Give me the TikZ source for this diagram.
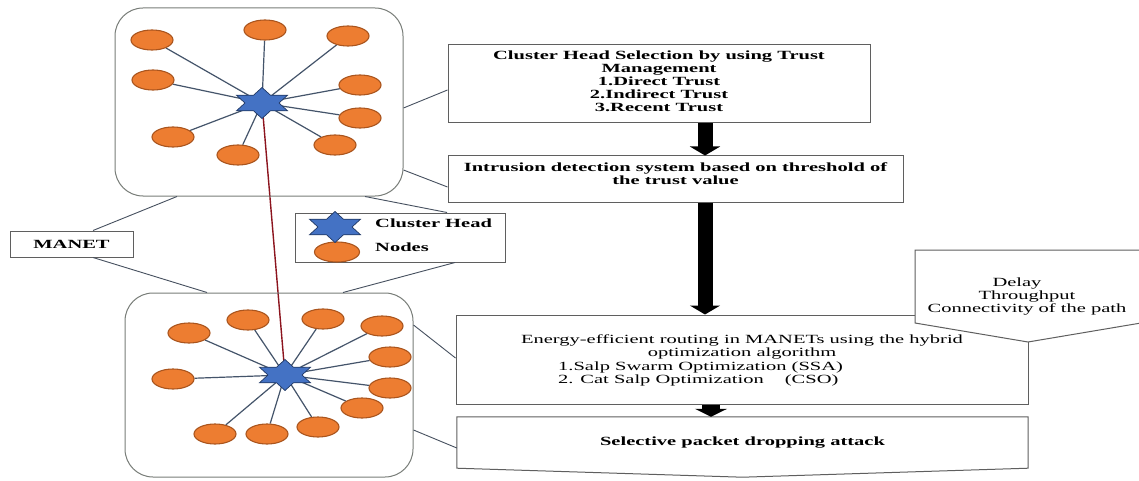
\documentclass[tikz,border=0pt]{standalone}
\usepackage{fontspec}
\setmainfont{Liberation Serif}[FakeStretch=1.64]
\usetikzlibrary{shapes.geometric,arrows.meta,backgrounds}
\definecolor{nodeorange}{RGB}{237,125,49}
\definecolor{nodeedge}{RGB}{170,85,30}
\definecolor{starblue}{RGB}{68,114,196}
\definecolor{staredge}{RGB}{32,56,100}
\definecolor{spoke}{RGB}{68,84,106}
\definecolor{linkred}{RGB}{140,20,30}
\definecolor{boxline}{RGB}{95,95,95}
\definecolor{clusterline}{RGB}{120,125,120}
\definecolor{leader}{RGB}{70,80,95}
\begin{document}
\begin{tikzpicture}[x=1pt,y=-1pt,
 dev/.style={ellipse, draw=nodeedge, line width=1.1pt, fill=nodeorange, minimum width=42pt, minimum height=20pt, inner sep=0pt},
 head/.style={star, star points=6, star point ratio=1.73, draw=staredge, line width=0.7pt, fill=starblue, minimum size=31pt, inner sep=0pt, xscale=1.9},
 spokeline/.style={draw=spoke, line width=1.2pt},
 redlink/.style={draw=linkred, line width=1.4pt},
 cluster/.style={draw=clusterline, line width=1pt, rounded corners=28pt, inner sep=0pt},
 boxnode/.style={draw=boxline, line width=1pt, inner sep=0pt},
 outline/.style={draw=boxline, line width=1pt},
 leaderline/.style={draw=leader, line width=0.9pt},
 btxt/.style={font=\fontsize{12.5}{13}\selectfont\bfseries, align=center, inner sep=0pt},
 rtxt/.style={font=\fontsize{12.5}{13}\selectfont, align=center, inner sep=0pt},
 blockarrow/.style={draw=black, line width=15pt, -{Triangle[width=30pt,length=9pt]}},
]
\useasboundingbox (0,0) rectangle (1139,481);
\begin{pgfonlayer}{background}
\fill[white] (0,0) rectangle (1139,481);
\end{pgfonlayer}

% cluster boxes
\node[cluster, minimum width=288pt, minimum height=188pt] (c1) at (259,102) {};
\node[cluster, minimum width=288pt, minimum height=184pt] (c2) at (269,385) {};

% top cluster nodes
\foreach \p [count=\i] in {(152,40),(265,30),(348,36),(153,80),(360,85),(173,137),(360,118),(238,155),(335,145)}
  \node[dev] (a\i) at \p {};
\node[head] (s1) at (262,103) {};

% bottom cluster nodes
\foreach \p [count=\i] in {(189,333),(248,320),(323,319),(382,326),(390,357),(173,379),(390,388),(362,408),(215,434),(267,434),(318,427)}
  \node[dev] (b\i) at \p {};
\node[head] (s2) at (285,375) {};

\begin{pgfonlayer}{background}
\foreach \i in {1,...,9} \draw[spokeline] (a\i) -- (s1.center);
\foreach \i in {1,...,11} \draw[spokeline] (b\i) -- (s2.center);
\draw[redlink] (s1.center) -- (s2.center);
\end{pgfonlayer}

% right-hand boxes
\node[boxnode, minimum width=422pt, minimum height=78pt] (bx1) at (659,84) {};
\node[btxt] (t1) at (659,81) {Cluster Head Selection by using Trust\\Management\\1.Direct Trust\\2.Indirect Trust\\3.Recent Trust};
\node[boxnode, minimum width=455pt, minimum height=46pt] (bx2) at (675.5,179) {};
\node[btxt] (t2) at (675.5,174) {Intrusion detection system based on threshold of\\the trust value};
\node[boxnode, minimum width=572pt, minimum height=89pt] (eb) at (742,359.5) {};
\node[rtxt] (t3) at (742,346.5) {Energy-efficient routing in MANETs using the hybrid\\optimization algorithm};
\node[rtxt, align=left, anchor=west] (t4) at (558,373.5) {1.Salp Swarm Optimization (SSA)\\2. Cat Salp Optimization\hspace{16pt} (CSO)};

% callout
\draw[outline, fill=white] (915,250) -- (1141,250) -- (1141,323) -- (1028,342) -- (915,323) -- cycle;
\node[rtxt] (t5) at (1027,297) {Delay\hspace*{20pt}\\Throughput\\Connectivity of the path};

% selective packet dropping
\node[btxt, minimum width=571pt, minimum height=51pt] (sp) at (742.5,442.5) {Selective packet dropping attack};
\draw[outline] (sp.north west) -- (sp.north east) -- (sp.south east) -- ([yshift=-9pt]sp.south) -- (sp.south west) -- cycle;

% MANET label
\node[boxnode, btxt, minimum width=123pt, minimum height=26pt] (mn) at (71.5,244) {MANET};

% legend
\node[boxnode, minimum width=210pt, minimum height=49pt] (lg) at (400,237.5) {};
\node[dev, minimum width=45pt] (le) at (337,252) {};
\node[head] (ls) at (335,227) {};
\node[btxt, anchor=west] (lt1) at (375,223) {Cluster Head};
\node[btxt, anchor=west] (lt2) at (375,247) {Nodes};

% block arrows
\coordinate (ax) at (705,0);
\coordinate (ax3) at (711,0);
\draw[blockarrow] (bx1.south -| ax) -- (bx2.north -| ax);
\draw[blockarrow] (bx2.south -| ax) -- (eb.north -| ax);
\draw[blockarrow, line width=18pt, -{Triangle[width=32pt,length=8pt]}] (eb.south -| ax3) -- (sp.north -| ax3);

% leader lines
\draw[leaderline] ([xshift=21.5pt]mn.north) -- ([xshift=-82pt]c1.south);
\draw[leaderline] ([xshift=21.5pt]mn.south) -- ([xshift=-62pt]c2.north);
\draw[leaderline] ([xshift=47pt]lg.north) -- ([xshift=106pt]c1.south);
\draw[leaderline] ([xshift=55pt]lg.south) -- ([xshift=74pt]c2.north);
\draw[leaderline] ([yshift=-6pt]c1.east) -- ([yshift=-6pt]bx1.west);
\draw[leaderline] ([yshift=-68pt]c1.east) -- ([yshift=-8pt]bx2.west);
\draw[leaderline] ([yshift=60pt]c2.east) -- ([yshift=1.5pt]eb.west);
\draw[leaderline] ([yshift=-45pt]c2.east) -- ([yshift=-5.5pt]sp.west);
\end{tikzpicture}
\end{document}
